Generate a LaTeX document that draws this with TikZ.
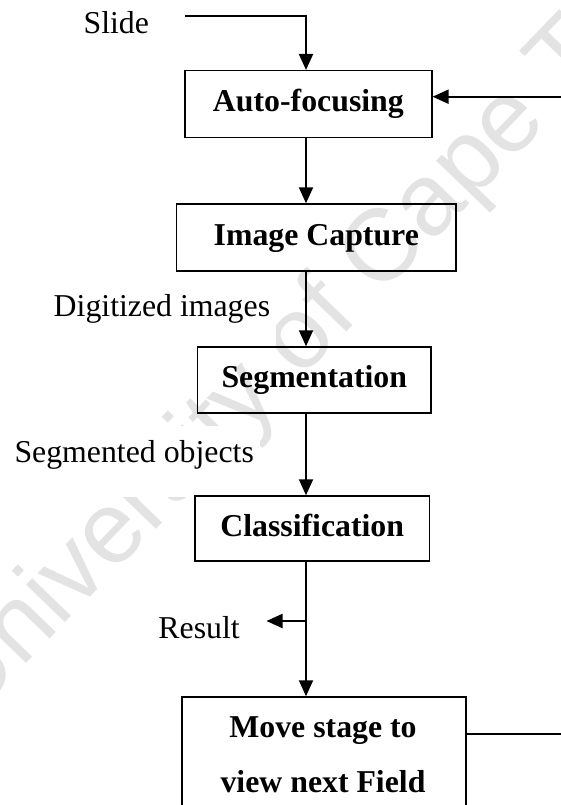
\documentclass[tikz,border=0pt]{standalone}
\usepackage{fontspec}
\setmainfont{Liberation Serif}
\newfontfamily\wmfont{Liberation Sans}
\usetikzlibrary{arrows.meta}

\begin{document}
\begin{tikzpicture}[x=1pt,y=-1pt,
  box/.style={draw=black, line width=1.5pt, inner sep=0pt,
    font=\fontsize{31.8}{38}\selectfont\bfseries,
    text height=22pt, text depth=6.4pt},
  boxtext/.style={inner sep=0pt, anchor=base,
    font=\fontsize{31.8}{38}\selectfont\bfseries},
  tag/.style={fill=white, anchor=base, inner xsep=6pt, inner ysep=0pt,
    text height=36pt, text depth=35pt,
    font=\fontsize{31.8}{38}\selectfont},
  flow/.style={line width=2pt, -{Triangle[length=16pt,width=14pt]}},
  plain/.style={line width=1.8pt},
  watermark/.style={inner sep=0pt, anchor=base west, rotate=46,
    text=black!11, font=\wmfont\fontsize{102}{102}\selectfont},
  ]
\useasboundingbox (0,0) rectangle (561,805);
\clip (0,0) rectangle (561,805);

% faint diagonal watermark behind the chart
\node[watermark] (wm) at (-29.8,721.8) {University of Cape Town};

% side labels (opaque text boxes)
\node[tag] (slide)  at (116.3,34)  {Slide};
\node[tag] (dig)    at (161.9,316) {Digitized images};
\node[tag] (segobj) at (134.2,462) {Segmented objects};
\node[tag] (res)    at (199.1,638) {Result};

% process boxes
\node[box, minimum width=246.8pt, minimum height=66.6pt] (af)  at (308.4,104)   {Auto-focusing};
\node[box, minimum width=279.8pt, minimum height=66.7pt] (ic)  at (316.3,237.4) {Image Capture};
\node[box, minimum width=233.6pt, minimum height=66pt]   (seg) at (314.3,380)   {Segmentation};
\node[box, minimum width=234.3pt, minimum height=65pt]   (cls) at (312.2,528.5) {Classification};
\node[box, minimum width=284.4pt, minimum height=143pt]  (mv)  at (324,768.5)   {};
\node[boxtext] (mv1) at (323,737) {Move stage to};
\node[boxtext] (mv2) at (323,792) {view next Field};

% connector anchors
\coordinate (spine) at (306,0);
\coordinate (slidestart) at (185,16);
\coordinate (fbin) at (565,96.7);
\coordinate (fbout) at (565,734);
\coordinate (split) at (306,621);
\coordinate (restip) at (266.5,621);

% main flow
\draw[flow] (slidestart) -| (af.north -| spine);
\draw[flow] (af.south -| spine) -- (ic.north -| spine);
\draw[flow] (ic.south -| spine) -- (seg.north -| spine);
\draw[flow] (seg.south -| spine) -- (cls.north -| spine);
\draw[flow] (cls.south -| spine) -- (mv.north -| spine);
\draw[flow] (split) -- (restip);

% loop back to focusing
\draw[plain] (mv.east |- fbout) -- (fbout);
\draw[flow] (fbin) -- (af.east |- fbin);
\end{tikzpicture}
\end{document}
